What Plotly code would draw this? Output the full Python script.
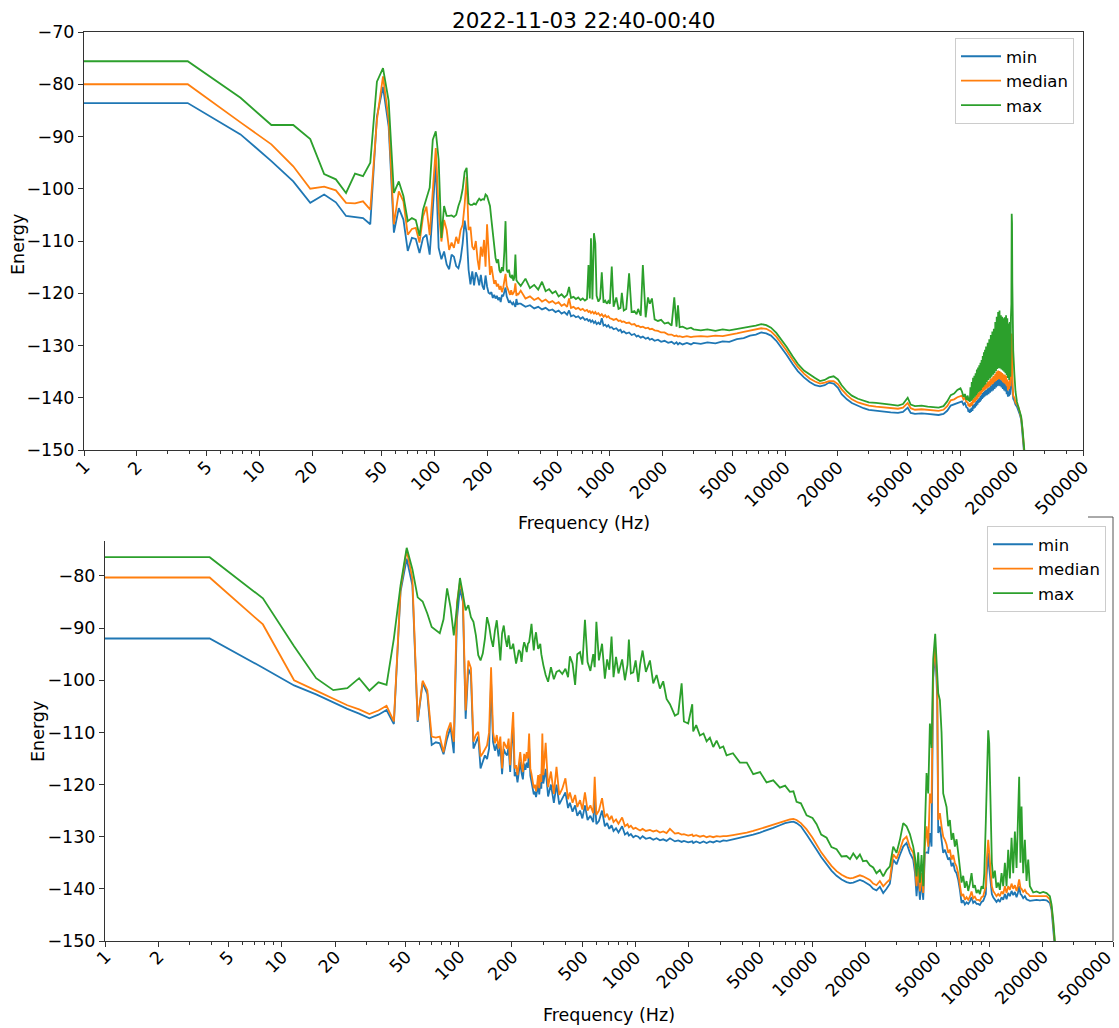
import math
import plotly.graph_objects as go

# ---------------- shared low-frequency bins (Hz) ----------------
freq_low = [1, 3.906, 7.812, 11.72, 15.62, 19.53, 23.44, 27.34, 31.25, 35.16,
            39.06, 42.97, 46.88, 50.78, 54.69, 58.59, 62.5, 66.41, 70.31, 74.22,
            78.12, 82.03, 85.94, 89.84, 93.75, 97.66, 101.56, 105.47, 109.38, 113.28,
            117.19, 121.09, 125.0, 128.91, 132.81, 136.72, 140.62, 144.53, 148.44, 152.34,
            156.25, 160.16, 164.06, 167.97, 171.88, 175.78, 179.69, 183.59, 187.5, 191.41,
            195.31, 199.22, 203.12, 207.03, 210.94, 214.84, 218.75, 222.66, 226.56, 230.47,
            234.38, 238.28, 242.19, 246.09, 250.0, 253.91, 257.81, 261.72, 265.62, 269.53,
            273.44, 277.34, 281.25, 285.16, 289.06, 292.97, 296.88, 300.78]

# ---------------- TOP panel ----------------
top_max_low = [-75.6, -75.6, -82.6, -87.8, -87.8, -90.5, -97.2, -98.2, -100.8, -97.1,
               -97.6, -95.0, -79.5, -76.9, -83.2, -100.8, -98.6, -101.4, -106.2, -105.6,
               -106.0, -109.0, -104.0, -101.7, -99.8, -90.6, -89.0, -94.4, -109.4, -103.3,
               -105.2, -105.2, -105.1, -105.4, -105.0, -103.3, -102.1, -100.1, -96.8, -96.0,
               -102.8, -103.1, -103.1, -102.8, -103.0, -102.4, -101.9, -102.2, -102.0, -102.1,
               -101.1, -101.4, -102.3, -103.3, -105.9, -108.4, -111.0, -113.2, -114.2, -113.5,
               -115.6, -116.1, -115.0, -115.8, -112.0, -106.2, -115.5, -116.0, -115.5, -116.8,
               -117.0, -116.5, -117.6, -117.0, -112.6, -117.5, -117.8, -118.0]
top_med_low = [-80.0, -80.0, -87.3, -91.5, -95.7, -100.0, -99.6, -100.3, -102.7, -102.8,
               -102.4, -104.0, -86.8, -78.5, -86.8, -106.8, -100.5, -102.4, -108.8, -107.7,
               -107.5, -110.3, -105.3, -103.4, -108.9, -100.0, -92.2, -104.1, -110.1, -106.0,
               -107.9, -111.7, -110.3, -111.3, -109.2, -110.5, -108.0, -106.9, -103.0, -97.7,
               -107.9, -107.3, -111.1, -111.7, -110.0, -113.5, -115.5, -111.1, -113.0, -109.8,
               -114.9, -106.8, -112.0, -116.5, -114.8, -117.0, -118.2, -117.5, -118.7, -118.2,
               -119.3, -118.6, -119.8, -119.0, -117.5, -116.3, -118.6, -119.2, -119.8, -120.3,
               -119.4, -120.3, -120.0, -119.6, -118.1, -120.5, -120.1, -120.2]
top_min_low = [-83.6, -83.6, -89.6, -94.7, -98.6, -102.7, -101.1, -102.6, -105.2, -105.4,
               -105.6, -106.8, -86.2, -80.5, -88.1, -108.4, -103.7, -105.9, -111.9, -109.4,
               -109.6, -112.3, -109.4, -108.8, -112.6, -104.0, -95.0, -111.3, -113.5, -112.0,
               -114.5, -115.4, -112.6, -113.0, -114.8, -115.2, -113.5, -110.5, -106.1, -108.5,
               -115.5, -118.3, -115.8, -118.5, -116.0, -116.9, -118.5, -116.5, -118.6, -119.3,
               -116.6, -118.7, -119.9, -120.1, -119.8, -120.9, -120.3, -121.0, -120.5, -121.3,
               -120.8, -121.7, -120.3, -120.6, -119.6, -118.9, -120.6, -121.1, -121.8, -121.5,
               -121.9, -122.1, -121.8, -122.2, -122.6, -121.1, -122.2, -122.0]

top_f_a = [310, 330, 350, 370, 390, 410, 430, 450, 470, 490,
           510, 530, 550, 570, 585, 600, 620, 640, 660, 680,
           700, 720, 740, 755, 768, 780, 795, 811, 826, 840,
           860, 880, 899, 920, 940, 960, 980, 1000]
top_max_a = [-118.6, -117.2, -119.0, -118.4, -119.3, -117.8, -119.6, -119.2, -120.0, -119.6,
             -120.6, -120.2, -120.8, -120.3, -118.8, -120.9, -120.7, -121.1, -120.8, -121.3,
             -121.0, -121.4, -121.1, -114.6, -121.0, -109.5, -121.2, -108.5, -110.5, -120.5,
             -121.6, -121.0, -116.0, -121.8, -121.4, -122.0, -121.5, -122.0]
top_med_a = [-119.5, -121.0, -120.6, -121.3, -120.9, -121.6, -121.2, -121.8, -121.5, -122.0,
             -121.7, -122.4, -122.1, -122.6, -121.0, -122.8, -122.6, -123.0, -122.8, -123.2,
             -123.0, -123.4, -123.2, -123.6, -123.4, -123.8, -123.5, -123.9, -123.6, -124.0,
             -123.8, -124.3, -124.0, -124.5, -124.2, -124.6, -124.4, -124.8]
top_min_a = [-122.0, -122.6, -122.3, -122.9, -122.6, -123.1, -122.8, -123.3, -123.1, -123.6,
             -123.3, -123.9, -123.6, -124.1, -123.3, -124.4, -124.2, -124.6, -124.4, -124.9,
             -124.6, -125.1, -124.9, -125.3, -125.1, -125.5, -125.2, -125.7, -125.4, -125.9,
             -125.6, -126.0, -124.8, -126.2, -126.0, -126.4, -126.1, -126.6]

top_f_b = [1025, 1050, 1088, 1120, 1150, 1170, 1200, 1240, 1287, 1330,
           1380, 1420, 1450, 1500, 1542, 1600, 1650, 1690, 1737, 1800,
           1880, 1960, 2050, 2150, 2250, 2330, 2400, 2447, 2500, 2600,
           2750, 2900, 3000]
top_max_b = [-114.9, -122.6, -120.8, -123.0, -122.8, -119.9, -123.3, -123.0, -116.2, -123.6,
             -123.4, -124.0, -123.0, -124.3, -114.6, -124.6, -120.8, -122.0, -121.0, -125.0,
             -125.3, -125.1, -125.8, -125.6, -126.2, -120.8, -126.4, -122.3, -126.5, -126.4,
             -126.8, -126.6, -126.9]
top_med_b = [-124.9, -125.1, -124.9, -125.3, -125.2, -125.5, -125.4, -125.7, -125.6, -126.0,
             -125.9, -126.3, -126.2, -126.5, -126.4, -126.7, -126.6, -126.9, -126.8, -127.1,
             -127.2, -127.5, -127.5, -127.9, -127.9, -128.2, -128.1, -128.3, -128.2, -128.4,
             -128.2, -128.4, -128.3]
top_min_b = [-126.5, -126.9, -126.7, -127.2, -127.0, -127.5, -127.3, -127.7, -127.5, -128.0,
             -127.8, -128.3, -128.1, -128.5, -128.3, -128.7, -128.5, -128.9, -128.7, -129.1,
             -128.9, -129.3, -129.1, -129.5, -129.3, -129.7, -129.4, -129.8, -129.5, -129.8,
             -129.5, -129.8, -129.5]

top_f_c = [3300, 3600, 4000, 4400, 4800, 5300, 5800, 6300, 6800, 7300,
           7800, 8300, 8900, 9500, 10200, 11000, 11800, 12800, 13800, 14800,
           15800, 16800, 17800, 18900, 20000]
top_max_c = [-127.1, -126.9, -127.2, -126.9, -127.1, -126.8, -126.6, -126.4, -126.2, -125.9,
             -126.1, -126.6, -127.6, -128.8, -130.3, -132.0, -133.5, -134.8, -135.6, -136.2,
             -136.8, -136.6, -136.1, -135.9, -136.5]
top_med_c = [-128.2, -128.3, -128.1, -128.2, -127.9, -127.7, -127.4, -127.1, -126.9, -126.7,
             -126.8, -127.3, -128.3, -129.5, -131.0, -132.7, -134.1, -135.4, -136.3, -136.9,
             -137.3, -137.1, -136.8, -136.8, -137.4]
top_min_c = [-129.7, -129.4, -129.6, -129.2, -129.3, -128.8, -128.6, -128.1, -127.9, -127.5,
             -127.7, -128.1, -129.1, -130.3, -131.8, -133.5, -134.9, -136.1, -137.0, -137.6,
             -137.8, -137.6, -137.1, -137.3, -138.1]

top_f_d = [21000, 22500, 24000, 26000, 28000, 30000, 33000, 36000, 40000, 44000,
           47000, 50000, 52000, 55000, 60000, 65000, 70000, 75000, 80000, 84000,
           88000, 92000, 96000, 100000]
top_max_d = [-137.6, -138.8, -139.6, -140.2, -140.5, -140.9, -141.0, -141.2, -141.3, -141.5,
             -141.2, -140.0, -141.3, -141.6, -141.5, -141.7, -141.8, -141.9, -141.6, -140.7,
             -139.5, -139.2, -138.5, -138.2]
top_med_d = [-138.4, -139.5, -140.3, -140.9, -141.2, -141.5, -141.7, -141.8, -142.0, -142.1,
             -141.9, -141.0, -142.0, -142.3, -142.2, -142.3, -142.4, -142.5, -142.3, -141.6,
             -140.5, -140.3, -139.9, -139.7]
top_min_d = [-139.3, -140.3, -141.0, -141.6, -142.0, -142.3, -142.5, -142.6, -142.8, -142.9,
             -142.7, -141.9, -142.9, -143.1, -143.0, -143.1, -143.2, -143.3, -143.1, -142.5,
             -141.5, -141.3, -141.0, -140.8]

top_f_e = [102000, 104000, 106000, 108000,
           110000, 111000, 112000, 113000, 114000, 115000, 116000, 117000, 118000, 119000,
           120000, 121000, 122000, 123000, 124000, 125000, 126000, 127000, 128000, 129000,
           130000, 131000, 132000, 133000, 134000, 135000, 136000, 137000, 138000, 139000,
           140000,
           141500, 143000, 144500, 146000, 147500, 149000, 150500, 152000, 153500, 155000,
           156500, 158000, 159500, 161000, 162500, 164000, 165500, 167000, 168500, 170000,
           171500, 173000, 174500, 176000, 177500, 179000, 180500, 182000, 183500, 185000,
           186500, 188000, 189500, 191000, 192500, 194000,
           195200, 196000, 196800, 197600, 198500,
           200000, 203000, 206000, 210000, 214000, 218000, 222000, 226000, 230000, 234000]
top_max_e = [-138.8, -139.8, -139.3, -140.4,
             -139.6, -140.6, -140.0, -140.8, -138.0, -140.6, -137.0, -140.4, -136.2, -140.1,
             -135.8, -139.8, -135.3, -139.5, -134.6, -139.2, -134.2, -138.9, -133.8, -138.7,
             -133.3, -138.5, -132.8, -138.1, -132.0, -137.9, -131.3, -137.6, -130.8, -137.4,
             -130.2,
             -137.0, -129.5, -136.6, -128.8, -136.3, -128.0, -136.0, -127.3, -135.6, -126.8,
             -135.3, -125.5, -134.9, -124.5, -134.5, -123.6, -134.3, -123.3, -134.4, -124.2,
             -134.6, -124.5, -134.8, -124.8, -135.0, -124.6, -135.3, -124.2, -135.7, -124.8,
             -136.2, -125.8, -136.6, -125.5, -136.0, -124.5,
             -122.0, -104.8, -106.5, -118.0, -126.0,
             -131.0, -135.5, -138.8, -140.8, -141.9, -142.6, -143.6, -146.0, -149.2, -152.0]
top_med_e = [-139.6, -140.3, -140.0, -140.8,
             -140.9, -141.6, -141.2, -141.8, -141.0, -141.6, -140.8, -141.4, -140.3, -141.0,
             -140.0, -140.8, -139.8, -140.5, -139.4, -140.2, -139.1, -139.9, -138.8, -139.6,
             -138.5, -139.3, -138.2, -139.0, -137.9, -138.8, -137.7, -138.6, -137.5, -138.4,
             -137.3,
             -138.2, -137.0, -138.0, -136.7, -137.8, -136.4, -137.5, -136.1, -137.3, -135.8,
             -137.0, -135.4, -136.8, -135.0, -136.6, -134.8, -136.4, -134.9, -136.5, -135.1,
             -136.7, -135.3, -137.0, -135.5, -137.2, -135.6, -137.4, -135.8, -137.8, -136.5,
             -138.6, -136.9, -138.3, -136.6, -137.8, -135.0,
             -133.0, -127.7, -129.5, -134.0, -138.0,
             -139.6, -140.0, -140.9, -141.3, -141.8, -142.8, -143.9, -146.3, -149.5, -152.5]
top_min_e = [-140.7, -141.3, -141.0, -141.8,
             -142.0, -142.7, -142.3, -142.9, -142.1, -142.7, -141.9, -142.5, -141.4, -142.1,
             -141.2, -141.9, -140.9, -141.6, -140.6, -141.3, -140.3, -141.0, -140.0, -140.8,
             -139.7, -140.5, -139.4, -140.2, -139.1, -140.0, -138.9, -139.8, -138.7, -139.6,
             -138.5,
             -139.5, -138.2, -139.3, -138.0, -139.0, -137.7, -138.8, -137.4, -138.6, -137.0,
             -138.3, -136.7, -138.0, -136.4, -137.8, -136.2, -137.7, -136.3, -137.8, -136.5,
             -138.0, -136.8, -138.3, -137.0, -138.6, -137.2, -138.8, -137.5, -139.3, -138.4,
             -139.8, -138.8, -139.7, -138.3, -139.4, -137.2,
             -136.5, -134.7, -135.5, -137.5, -139.5,
             -140.2, -140.6, -141.3, -141.7, -142.3, -143.2, -144.2, -146.6, -149.8, -153.0]

# ---------------- BOTTOM panel ----------------
bot_max_low = [-76.4, -76.4, -84.3, -93.5, -99.6, -101.9, -101.5, -99.6, -102.0, -100.4,
               -100.9, -92.0, -81.8, -74.6, -78.7, -84.1, -84.9, -87.2, -89.8, -90.5,
               -91.0, -88.3, -82.4, -86.0, -91.4, -86.0, -80.4, -83.4, -86.6, -85.6,
               -87.9, -88.8, -91.4, -95.2, -96.2, -94.9, -92.0, -87.9, -89.5, -92.0,
               -93.6, -90.5, -88.5, -92.0, -96.2, -91.0, -89.5, -92.0, -93.6, -91.4,
               -93.9, -93.9, -93.0, -95.0, -96.8, -95.5, -94.2, -94.6, -96.5, -94.0,
               -92.7, -93.5, -94.6, -93.0, -92.7, -91.0, -89.2, -92.0, -94.3, -92.0,
               -90.8, -92.5, -94.0, -93.6, -93.0, -95.0, -96.5, -97.1]
bot_med_low = [-80.3, -80.3, -89.3, -100.0, -102.0, -103.6, -104.8, -105.6, -106.5, -105.8,
               -104.9, -107.9, -82.5, -75.1, -80.5, -107.7, -100.1, -101.9, -110.8, -111.0,
               -110.8, -113.8, -109.9, -108.1, -111.8, -85.1, -81.2, -83.7, -105.8, -96.2,
               -97.7, -111.8, -110.5, -109.9, -114.6, -114.0, -113.1, -112.5, -110.0, -97.5,
               -109.9, -112.1, -110.5, -113.1, -110.8, -116.9, -111.8, -112.5, -113.1, -111.2,
               -116.3, -110.5, -106.1, -116.9, -116.3, -118.2, -116.0, -113.8, -116.3, -117.6,
               -114.1, -115.5, -113.8, -115.0, -110.2, -116.9, -118.0, -119.4, -120.7, -120.0,
               -121.3, -120.0, -118.2, -120.7, -118.0, -119.5, -110.2, -118.2]
bot_min_low = [-92.0, -92.0, -97.6, -101.0, -102.7, -104.3, -105.5, -106.4, -107.3, -106.6,
               -105.7, -108.4, -83.0, -76.7, -81.8, -108.0, -100.5, -102.6, -112.4, -111.9,
               -112.1, -114.2, -111.2, -109.0, -114.0, -88.3, -82.4, -84.9, -107.4, -97.8,
               -99.1, -113.1, -112.1, -110.8, -116.9, -115.7, -114.4, -115.1, -113.1, -100.3,
               -111.8, -113.5, -112.2, -114.6, -112.6, -118.0, -113.2, -114.0, -114.4, -112.8,
               -117.6, -112.2, -109.0, -118.4, -117.6, -119.6, -117.5, -115.6, -117.8, -119.0,
               -116.0, -117.2, -115.8, -116.8, -113.0, -118.3, -119.5, -120.7, -121.9, -121.3,
               -122.4, -121.3, -119.8, -121.9, -119.6, -120.8, -113.5, -119.8]

bot_f_a = [310, 320, 332, 345, 357, 370, 385, 401, 415, 425,
           440, 455, 468, 485, 500, 517, 535, 555, 576, 587,
           600, 620, 646, 670, 690, 710, 731, 750, 775, 800,
           839, 870, 900, 916, 940, 970, 1000]
bot_max_a = [-99.0, -100.3, -97.5, -99.8, -98.4, -98.1, -98.8, -97.8, -99.4, -95.4,
             -96.8, -100.9, -95.0, -94.6, -97.0, -88.4, -96.5, -98.2, -95.0, -97.5,
             -88.8, -96.2, -93.0, -99.7, -96.0, -98.0, -91.6, -99.4, -95.5, -98.7,
             -96.0, -100.0, -97.0, -92.2, -98.7, -98.5, -96.2]
bot_med_a = [-112.0, -120.5, -117.5, -121.8, -116.6, -122.0, -120.8, -118.8, -122.8, -121.5,
             -123.5, -122.0, -124.3, -123.0, -124.8, -121.5, -125.0, -124.0, -125.5, -118.5,
             -125.8, -125.0, -122.6, -126.3, -125.6, -126.8, -126.0, -127.2, -126.7, -127.5,
             -126.3, -128.0, -127.6, -128.2, -127.9, -128.5, -128.3]
bot_min_a = [-117.0, -122.3, -120.0, -123.5, -120.0, -123.8, -122.8, -121.5, -124.5, -123.5,
             -125.2, -124.0, -126.0, -125.0, -126.5, -124.0, -126.8, -126.0, -127.2, -122.5,
             -127.6, -127.0, -125.0, -128.0, -127.4, -128.5, -127.8, -128.9, -128.4, -129.2,
             -128.0, -129.6, -129.2, -129.8, -129.5, -130.1, -129.8]

bot_f_b = [1035, 1060, 1095, 1143, 1205, 1258, 1314, 1372, 1432, 1496,
           1563, 1668, 1741, 1820, 1875, 1983, 2090, 2116, 2200, 2310,
           2420, 2520, 2630, 2747, 2870, 2996, 3130, 3268, 3550, 3887,
           4250, 4623, 5050, 5500, 6000, 6543, 7000, 7450, 7800, 8126,
           8600, 9262, 10000]
bot_max_b = [-100.3, -97.0, -94.3, -98.4, -96.2, -100.6, -99.0, -101.6, -100.2, -103.6,
             -104.6, -106.8, -106.4, -100.6, -107.9, -108.3, -104.6, -109.8, -108.6, -110.6,
             -110.2, -111.7, -111.0, -112.8, -111.6, -113.0, -112.7, -114.4, -114.0, -115.8,
             -115.8, -118.0, -117.6, -119.6, -119.2, -120.6, -120.2, -121.4, -121.3, -123.3,
             -123.6, -125.9, -126.4]
bot_med_b = [-128.6, -128.8, -128.5, -128.9, -128.7, -129.0, -128.8, -129.2, -129.0, -129.3,
             -128.5, -129.4, -129.3, -129.6, -129.5, -129.8, -129.6, -129.9, -129.7, -130.0,
             -129.8, -130.1, -129.9, -130.1, -129.9, -130.0, -129.9, -129.9, -129.7, -129.5,
             -129.2, -128.9, -128.5, -128.1, -127.7, -127.2, -126.9, -126.7, -126.6, -126.8,
             -127.4, -128.6, -130.2]
bot_min_b = [-130.0, -130.4, -129.9, -130.4, -130.2, -130.6, -130.3, -130.7, -130.5, -130.8,
             -130.3, -130.9, -130.7, -131.0, -130.8, -131.1, -130.9, -131.2, -130.9, -131.2,
             -130.9, -131.2, -130.9, -131.1, -130.8, -131.0, -130.7, -130.8, -130.5, -130.3,
             -129.9, -129.6, -129.2, -128.8, -128.3, -127.8, -127.4, -127.2, -127.1, -127.4,
             -128.0, -129.6, -131.2]

bot_f_c = [10550, 11200, 12015, 12800, 13685, 14600, 15583, 16300, 17000, 17800,
           18535, 19300, 20220, 21100, 22040, 23000]
bot_max_c = [-127.6, -129.6, -130.2, -132.0, -132.4, -133.8, -133.7, -134.3, -133.2, -134.2,
             -133.4, -134.7, -134.6, -135.5, -135.9, -137.0]
bot_med_c = [-131.6, -133.0, -134.4, -135.6, -136.6, -137.3, -137.8, -138.0, -137.9, -137.6,
             -137.4, -137.6, -138.0, -138.3, -139.0, -139.3]
bot_min_c = [-132.5, -133.9, -135.3, -136.5, -137.5, -138.2, -138.7, -138.9, -138.8, -138.5,
             -138.3, -138.5, -138.9, -139.3, -140.0, -140.3]

bot_f_d = [24040, 25110, 26220, 27380, 28600, 29870, 31200, 32580, 34020, 35530,
           37110, 38000, 38750, 39600, 40470, 41360, 42270, 43190, 44140, 45110,
           46100, 47110, 48140, 48770, 49410, 50060, 50720, 51380, 52510, 53660,
           54830, 56040, 57270, 58520, 59810, 61120, 62460, 63830, 65230, 66600,
           68110, 69620, 71140, 72700, 74290, 75950, 77590, 79300, 81030, 82800,
           84620, 86480, 88370, 90300, 92290, 93600, 95500, 96390, 97650, 98490,
           99790, 101530, 103300, 105110, 107430, 109770, 112200, 114650, 117200, 119740,
           122370, 125060, 127800, 130600, 133470, 136400, 139390, 142450, 144930, 147400,
           149900, 152010, 155300, 158760, 162240, 165800, 169440, 176960, 184810, 193010,
           201570, 210530, 219790, 224580, 229530, 234560, 239700]
bot_max_d = [-136.4, -137.6, -136.4, -135.7, -131.9, -133.1, -130.6, -127.4, -128.0, -129.5,
             -131.9, -134.0, -137.6, -133.0, -138.8, -133.5, -139.5, -128.0, -117.8, -121.7,
             -108.3, -113.0, -96.0, -93.5, -91.1, -95.0, -98.0, -102.5, -103.8, -110.0,
             -121.7, -123.0, -124.3, -128.0, -126.8, -130.6, -129.3, -131.9, -130.5, -133.0,
             -136.5, -138.8, -137.5, -139.8, -138.5, -140.4, -139.0, -137.0, -139.8, -139.3,
             -140.8, -140.2, -141.0, -139.5, -140.0, -137.0, -127.0, -120.0, -112.0, -109.6,
             -112.0, -125.0, -135.0, -138.0, -136.5, -139.8, -138.8, -140.2, -137.0, -139.5,
             -135.0, -139.5, -132.5, -138.0, -130.2, -137.0, -129.0, -136.0, -126.0, -118.5,
             -135.0, -124.2, -137.0, -130.6, -138.5, -134.4, -139.5, -140.7, -140.5, -140.8,
             -140.6, -140.8, -141.4, -143.0, -146.0, -150.0, -154.0]
bot_med_d = [-138.5, -139.5, -138.8, -138.2, -133.4, -134.2, -132.5, -130.6, -130.0, -132.0,
             -133.1, -135.5, -139.5, -136.0, -140.5, -137.0, -140.8, -131.9, -128.0, -131.9,
             -121.7, -123.6, -98.0, -95.0, -93.6, -97.0, -101.3, -126.8, -125.5, -128.0,
             -130.0, -130.6, -131.5, -133.1, -132.5, -134.4, -133.5, -135.0, -135.7, -137.0,
             -139.0, -141.4, -141.0, -142.1, -141.6, -142.1, -141.5, -140.5, -141.8, -141.5,
             -142.1, -142.1, -142.3, -141.6, -141.4, -140.5, -139.5, -135.0, -131.0, -130.6,
             -133.0, -137.5, -139.5, -140.4, -140.8, -141.4, -141.0, -141.4, -140.5, -141.0,
             -139.5, -140.8, -139.5, -140.2, -139.0, -140.0, -139.3, -140.4, -139.5, -138.2,
             -139.8, -140.0, -140.6, -140.2, -140.8, -141.0, -141.4, -141.4, -141.3, -141.4,
             -141.3, -141.4, -142.0, -143.5, -146.5, -150.5, -154.5]
bot_min_d = [-139.6, -140.8, -140.0, -139.0, -134.4, -135.3, -133.5, -131.9, -131.2, -133.1,
             -134.4, -137.0, -141.4, -137.5, -142.1, -138.5, -142.1, -133.1, -133.0, -133.1,
             -129.3, -131.9, -99.5, -96.5, -94.9, -98.5, -103.5, -129.3, -128.0, -130.6,
             -133.1, -132.5, -133.5, -134.4, -134.0, -135.7, -135.0, -136.5, -137.0, -138.2,
             -140.2, -142.7, -142.2, -143.0, -142.6, -142.9, -142.4, -141.6, -142.7, -142.4,
             -142.9, -142.9, -143.1, -142.5, -142.3, -141.8, -141.0, -137.5, -133.5, -133.1,
             -136.0, -139.5, -141.0, -141.6, -142.0, -142.5, -142.1, -142.5, -141.6, -142.1,
             -141.0, -142.0, -140.8, -141.4, -140.4, -141.2, -140.6, -141.6, -140.8, -139.5,
             -141.0, -141.2, -141.8, -141.4, -142.0, -142.1, -142.3, -142.2, -142.1, -142.2,
             -142.1, -142.2, -142.7, -144.0, -147.0, -151.0, -155.0]

# ---------------- axis ticks / labels ----------------
tick_vals = [1, 2, 5, 10, 20, 50, 100, 200, 500, 1000, 2000, 5000,
             10000, 20000, 50000, 100000, 200000, 500000]
tick_text = ["1", "2", "5", "10", "20", "50", "100", "200", "500", "1000", "2000", "5000",
             "10000", "20000", "50000", "100000", "200000", "500000"]
minor_mults = [3, 4, 6, 7, 8, 9]
top_yticks = [-150, -140, -130, -120, -110, -100, -90, -80, -70]
bot_yticks = [-150, -140, -130, -120, -110, -100, -90, -80]
title_text = "2022-11-03 22:40-00:40"
series_names = ["min", "median", "max"]
series_colors = ["#1f77b4", "#ff7f0e", "#2ca02c"]


def join(name, fl, *groups):
    out = []
    for gi, g in enumerate(groups):
        if len(g) != len(fl[gi]):
            raise ValueError(f"{name} segment {gi}: {len(fl[gi])} freqs vs {len(g)} values")
        out += g
    return out


top_fsegs = [freq_low, top_f_a, top_f_b, top_f_c, top_f_d, top_f_e]
bot_fsegs = [freq_low, bot_f_a, bot_f_b, bot_f_c, bot_f_d]
top_freq = sum(top_fsegs, [])
bot_freq = sum(bot_fsegs, [])
top_series = [
    join("top_min", top_fsegs, top_min_low, top_min_a, top_min_b, top_min_c, top_min_d, top_min_e),
    join("top_med", top_fsegs, top_med_low, top_med_a, top_med_b, top_med_c, top_med_d, top_med_e),
    join("top_max", top_fsegs, top_max_low, top_max_a, top_max_b, top_max_c, top_max_d, top_max_e),
]
bot_series = [
    join("bot_min", bot_fsegs, bot_min_low, bot_min_a, bot_min_b, bot_min_c, bot_min_d),
    join("bot_med", bot_fsegs, bot_med_low, bot_med_a, bot_med_b, bot_med_c, bot_med_d),
    join("bot_max", bot_fsegs, bot_max_low, bot_max_a, bot_max_b, bot_max_c, bot_max_d),
]

W, H = 1119, 1028
FONT = "DejaVu Sans"
FS = 17.5
LFS = 16.5


def px(x):
    return x / W


def py(y):
    return 1 - y / H


fig = go.Figure()
for name, col, vals in zip(series_names, series_colors, top_series):
    fig.add_trace(go.Scatter(x=top_freq, y=vals, mode="lines", name=name,
                             line=dict(color=col, width=1.8), xaxis="x", yaxis="y",
                             legend="legend"))
for name, col, vals in zip(series_names, series_colors, bot_series):
    fig.add_trace(go.Scatter(x=bot_freq, y=vals, mode="lines", name=name,
                             line=dict(color=col, width=1.8), xaxis="x2", yaxis="y2",
                             legend="legend2"))

minor_vals = [d * m for d in [1, 10, 100, 1000, 10000, 100000] for m in minor_mults if d * m < 500000]

axis_common = dict(showgrid=False, zeroline=False, showline=True, linecolor="#333333", linewidth=1,
                   ticks="outside", tickcolor="#333333", tickwidth=1, ticklen=5, automargin=False)
xcommon = dict(axis_common, type="log", range=[0, math.log10(500000)], tickvals=tick_vals,
               showticklabels=False,
               minor=dict(ticks="outside", ticklen=3, tickwidth=1, tickcolor="#333333",
                          tickvals=minor_vals))

fig.update_layout(
    template="none",
    width=W, height=H, autosize=False,
    margin=dict(l=0, r=0, t=0, b=0, pad=0, autoexpand=False),
    paper_bgcolor="white", plot_bgcolor="white",
    font=dict(family=FONT, size=FS, color="black"),
    xaxis=dict(xcommon, domain=[px(84), px(1083)], anchor="y", mirror=True),
    yaxis=dict(axis_common, domain=[py(450), py(32)], anchor="x", range=[-150, -70],
               tickvals=top_yticks, mirror=True, tickfont=dict(size=FS)),
    xaxis2=dict(xcommon, domain=[px(105), px(1113)], anchor="y2"),
    yaxis2=dict(axis_common, domain=[py(941), py(541)], anchor="x2", range=[-150, -73.3],
                tickvals=bot_yticks, tickfont=dict(size=FS)),
    legend=dict(x=px(1074), xanchor="right", y=py(38), yanchor="top",
                bgcolor="rgba(255,255,255,0.8)", bordercolor="#cccccc", borderwidth=1,
                font=dict(size=LFS), itemwidth=40),
    legend2=dict(x=px(1106), xanchor="right", y=py(526), yanchor="top",
                 bgcolor="rgba(255,255,255,0.8)", bordercolor="#cccccc", borderwidth=1,
                 font=dict(size=LFS), itemwidth=40),
    showlegend=True,
)

annotations = []
for v, t in zip(tick_vals, tick_text):
    annotations.append(dict(x=math.log10(v), xref="x", y=py(454), yref="paper", text=t,
                            textangle=-45, xanchor="right", yanchor="top", xshift=12,
                            showarrow=False, font=dict(size=FS)))
    # the last label of the lower axis sits at the page edge: keep it inside the picture
    shift_b = 5 if v == tick_vals[-1] else 12
    annotations.append(dict(x=math.log10(v), xref="x2", y=py(944), yref="paper", text=t,
                            textangle=-45, xanchor="right", yanchor="top", xshift=shift_b,
                            showarrow=False, font=dict(size=FS)))
annotations += [
    dict(x=px(583.5), y=py(20.5), xref="paper", yref="paper", text=title_text, showarrow=False,
         xanchor="center", yanchor="middle", font=dict(size=21.5)),
    dict(x=px(18), y=py(245), xref="paper", yref="paper", text="Energy", textangle=-90,
         showarrow=False, xanchor="center", yanchor="middle"),
    dict(x=px(584), y=py(523), xref="paper", yref="paper", text="Frequency (Hz)",
         showarrow=False, xanchor="center", yanchor="middle"),
    dict(x=px(38), y=py(732), xref="paper", yref="paper", text="Energy", textangle=-90,
         showarrow=False, xanchor="center", yanchor="middle"),
    dict(x=px(608.5), y=py(1015), xref="paper", yref="paper", text="Frequency (Hz)",
         showarrow=False, xanchor="center", yanchor="middle"),
]
fig.update_layout(annotations=annotations)

# visible fragments of the lower panel's frame (top-right corner)
fig.add_shape(type="line", xref="paper", yref="paper", x0=px(1088), x1=px(1113),
              y0=py(517), y1=py(517), line=dict(color="#555555", width=1))
fig.add_shape(type="line", xref="paper", yref="paper", x0=px(1113), x1=px(1113),
              y0=py(517), y1=py(941), line=dict(color="#555555", width=1))

fig.write_html("out.html",
               config={"displayModeBar": False},
               post_script="document.body.style.margin='0px';document.body.style.overflow='hidden';")
